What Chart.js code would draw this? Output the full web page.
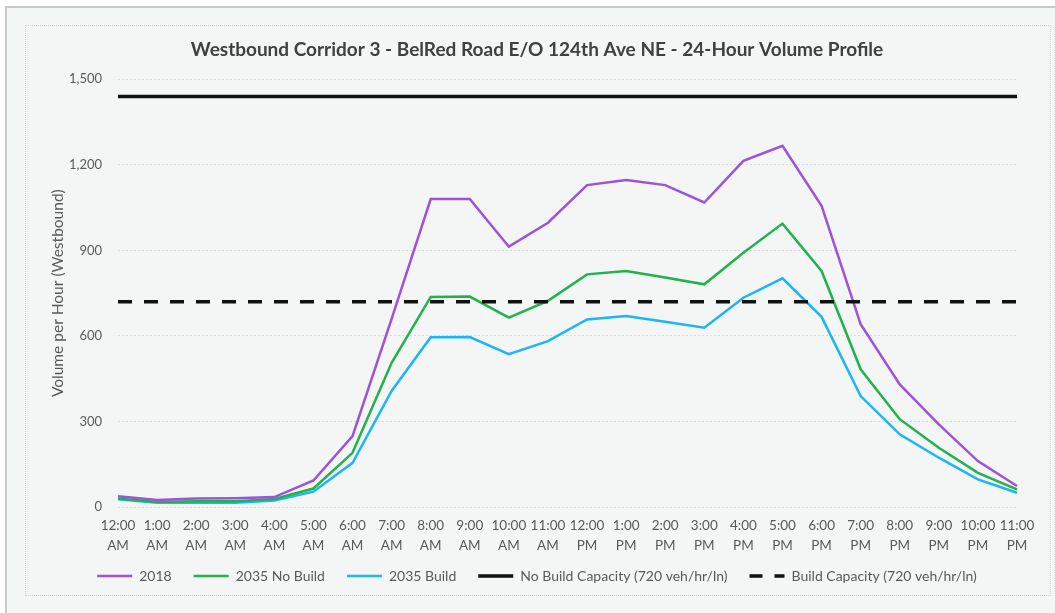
<!DOCTYPE html>
<html>
<head>
<meta charset="utf-8">
<script src="https://cdn.jsdelivr.net/npm/chart.js@4/dist/chart.umd.min.js"></script>
<style>
  html, body { margin: 0; padding: 0; background: #ffffff; }
  #wrap { position: relative; width: 1055px; height: 613px; overflow: hidden; }
  #panel {
    position: absolute; left: 5px; top: 6px; width: 1060px; height: 620px;
    background: #f4f5f5; border-left: 2px solid #c9c9c9; border-top: 2px solid #c9c9c9;
  }
  #frame {
    position: absolute; left: 25px; top: 25px; width: 1024px; height: 569px;
    border: 1px dotted #d2d2d2;
  }
  canvas { position: absolute; left: 0; top: 0; }
</style>
</head>
<body>
<div id="wrap">
  <div id="panel"></div>
  <div id="frame"></div>
  <canvas id="chart" width="1055" height="613"></canvas>
</div>
<script>
// Hour-of-day categories (two-line labels)
const hours = [
  ["12:00", "AM"], ["1:00", "AM"], ["2:00", "AM"], ["3:00", "AM"], ["4:00", "AM"], ["5:00", "AM"],
  ["6:00", "AM"], ["7:00", "AM"], ["8:00", "AM"], ["9:00", "AM"], ["10:00", "AM"], ["11:00", "AM"],
  ["12:00", "PM"], ["1:00", "PM"], ["2:00", "PM"], ["3:00", "PM"], ["4:00", "PM"], ["5:00", "PM"],
  ["6:00", "PM"], ["7:00", "PM"], ["8:00", "PM"], ["9:00", "PM"], ["10:00", "PM"], ["11:00", "PM"]
];

// Hourly westbound volumes
const vol2018 = [38, 25, 30, 31, 35, 93, 249, 660, 1080, 1080, 913, 997, 1129, 1147, 1129, 1068, 1214, 1267, 1056, 641, 430, 290, 161, 74];
const vol2035NoBuild = [30, 18, 20, 20, 28, 65, 190, 506, 737, 738, 664, 723, 816, 828, 805, 781, 892, 994, 828, 483, 308, 208, 120, 62];
const vol2035Build = [27, 15, 15, 15, 23, 54, 155, 407, 595, 596, 536, 582, 658, 670, 650, 629, 734, 802, 667, 389, 255, 173, 97, 50];

// Corridor capacities (veh/hr)
const noBuildCapacity = [1440, 1440, 1440, 1440, 1440, 1440, 1440, 1440, 1440, 1440, 1440, 1440,
                         1440, 1440, 1440, 1440, 1440, 1440, 1440, 1440, 1440, 1440, 1440, 1440];
const buildCapacity = [720, 720, 720, 720, 720, 720, 720, 720, 720, 720, 720, 720,
                       720, 720, 720, 720, 720, 720, 720, 720, 720, 720, 720, 720];

// Y axis ticks
const yTicks = [0, 300, 600, 900, 1200, 1500];

const FONT = "Lato, 'Open Sans', sans-serif";
const TEXT = "#595959";

// Pull the legend row up closer to the axis labels
const legendLift = {
  id: "legendLift",
  afterLayout(chart) {
    const lg = chart.legend;
    if (lg) { lg.top -= 18; lg.bottom -= 18; }
  }
};

new Chart(document.getElementById("chart"), {
  type: "line",
  data: {
    labels: hours,
    datasets: [
      { label: "2018", data: vol2018, borderColor: "#9e52d9", backgroundColor: "#9e52d9", borderWidth: 2.5, order: 1 },
      { label: "2035 No Build", data: vol2035NoBuild, borderColor: "#22b24c", backgroundColor: "#22b24c", borderWidth: 2.5, order: 1 },
      { label: "2035 Build", data: vol2035Build, borderColor: "#1db6f5", backgroundColor: "#1db6f5", borderWidth: 2.5, order: 1 },
      { label: "No Build Capacity (720 veh/hr/ln)", data: noBuildCapacity, borderColor: "#111111", backgroundColor: "#111111", borderWidth: 3.5, order: 0 },
      { label: "Build Capacity (720 veh/hr/ln)", data: buildCapacity, borderColor: "#111111", backgroundColor: "#111111", borderWidth: 3.5, borderDash: [14, 12], order: 0 }
    ]
  },
  plugins: [legendLift],
  options: {
    responsive: false,
    animation: false,
    devicePixelRatio: 1,
    layout: { padding: { top: 30, left: 34, right: 15, bottom: 2 } },
    elements: {
      point: { radius: 0, hoverRadius: 0 },
      line: { tension: 0, borderCapStyle: "butt" }
    },
    plugins: {
      title: {
        display: true,
        text: "Westbound Corridor 3 - BelRed Road E/O 124th Ave NE - 24-Hour Volume Profile",
        color: "#404040",
        font: { family: FONT, size: 19, weight: "bold" },
        padding: { top: 8.5, bottom: 18 }
      },
      legend: {
        position: "bottom",
        labels: {
          usePointStyle: true,
          pointStyle: "line",
          pointStyleWidth: 35,
          boxHeight: 12,
          padding: 22,
          color: TEXT,
          font: { family: FONT, size: 14 },
          sort: (a, b) => a.datasetIndex - b.datasetIndex,
          generateLabels: (chart) => {
            const items = Chart.defaults.plugins.legend.labels.generateLabels(chart);
            items.forEach((item) => {
              const ds = chart.data.datasets[item.datasetIndex];
              item.lineDash = ds.borderDash ? [13, 12] : [];
              item.lineWidth = ds.borderWidth;
              item.strokeStyle = ds.borderColor;
            });
            return items;
          }
        }
      },
      tooltip: { enabled: false }
    },
    scales: {
      x: {
        offset: false,
        grid: { display: false, drawTicks: false },
        border: { display: false },
        ticks: {
          autoSkip: false, maxRotation: 0, padding: 9,
          color: TEXT, font: { family: FONT, size: 13.5, lineHeight: 1.48 }
        }
      },
      y: {
        min: 0, max: 1500,
        afterBuildTicks: (axis) => { axis.ticks = yTicks.map(v => ({ value: v })); },
        afterFit: (axis) => { axis.width = 84; },
        grid: { color: "#dadada", lineWidth: 1, drawTicks: false },
        border: { display: false, dash: [2, 2] },
        ticks: {
          padding: 16, color: TEXT, font: { family: FONT, size: 13 },
          callback: (v) => v.toLocaleString("en-US")
        },
        title: {
          display: true, text: "Volume per Hour (Westbound)",
          color: TEXT, font: { family: FONT, size: 15.5 },
          padding: { top: 15, bottom: 0 }
        }
      },
      // empty right-hand margin axis
      yRight: {
        position: "right",
        min: 0, max: 1500,
        afterFit: (axis) => { axis.width = 23; },
        grid: { display: false, drawTicks: false },
        border: { display: false },
        ticks: { display: false }
      }
    }
  }
});
</script>
</body>
</html>
